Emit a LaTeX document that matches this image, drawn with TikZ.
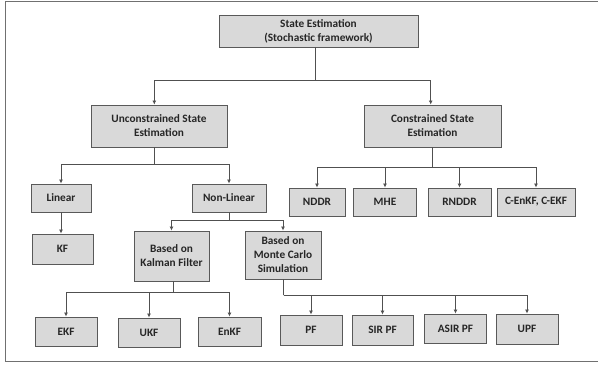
\documentclass[tikz,border=0pt]{standalone}
\usepackage{fontspec}
\setmainfont{Carlito}
\usetikzlibrary{arrows.meta}
\definecolor{boxfill}{HTML}{D9D9D9}
\definecolor{boxline}{HTML}{595959}
\definecolor{connc}{HTML}{505050}
\definecolor{framec}{HTML}{707070}
\begin{document}
\begin{tikzpicture}[x=1pt,y=-1pt,
  bx/.style={draw=boxline,fill=boxfill,line width=0.9pt,inner sep=0pt,align=center,
    font=\fontsize{11.3}{14}\selectfont\bfseries,text=black!85},
  conn/.style={draw=connc,line width=0.8pt},
  arr/.style={conn,-{Latex[length=4pt,width=4pt]}}]
\useasboundingbox (0,0) rectangle (598,365);
\draw[framec,line width=1pt] (598,1) -- (5,1) -- (5,361) -- (598,361);

% nodes
\node[bx,minimum width=199pt,minimum height=32pt] (top) at (318.5,31) {State Estimation\\(Stochastic framework)};
\node[bx,minimum width=136pt,minimum height=42pt] (unc) at (159,126) {Unconstrained State\\Estimation};
\node[bx,minimum width=137pt,minimum height=42pt] (con) at (432.5,126) {Constrained State\\Estimation};
\node[bx,minimum width=60pt,minimum height=28pt] (lin) at (61,198) {Linear};
\node[bx,minimum width=74pt,minimum height=28pt] (nonlin) at (229,198) {Non-Linear};
\node[bx,minimum width=61pt,minimum height=30pt] (kf) at (62.5,249) {KF};
\node[bx,minimum width=75pt,minimum height=50pt] (kal) at (171.5,256) {Based on\\Kalman Filter};
\node[bx,minimum width=76pt,minimum height=48pt] (mc) at (283,255) {Based on\\Monte Carlo\\Simulation};
\node[bx,minimum width=62pt,minimum height=29pt] (ekf) at (66,331.5) {EKF};
\node[bx,minimum width=62pt,minimum height=29pt] (ukf) at (149,332.5) {UKF};
\node[bx,minimum width=63pt,minimum height=29pt] (enkf) at (229.5,331.5) {EnKF};
\node[bx,minimum width=62pt,minimum height=30pt] (pf) at (311,330) {PF};
\node[bx,minimum width=61pt,minimum height=30pt] (sirpf) at (382.5,330) {SIR PF};
\node[bx,minimum width=62pt,minimum height=29pt] (asir) at (455.5,328.5) {ASIR PF};
\node[bx,minimum width=62pt,minimum height=30pt] (upf) at (527,329) {UPF};
\node[bx,minimum width=56pt,minimum height=28pt] (nddr) at (317,202) {NDDR};
\node[bx,minimum width=63pt,minimum height=28pt] (mhe) at (385,202) {MHE};
\node[bx,minimum width=63pt,minimum height=28pt] (rnddr) at (459.5,202) {RNDDR};
\node[bx,minimum width=78pt,minimum height=28pt] (cenkf) at (536,202) {C-EnKF, C-EKF};

% bus junctions
\coordinate (b1) at (315,80);
\coordinate (b2) at (154.3,164);
\coordinate (b3) at (432.5,167.5);
\coordinate (b4) at (229,220.7);
\coordinate (b5) at (173.7,292.7);
\coordinate (b6) at (283.7,295.3);

% connectors
\draw[conn] (top.south -| b1) -- (b1);
\draw[arr] (b1) -| ([xshift=-4.7pt]unc.north);
\draw[arr] (b1) -| ([xshift=-1.8pt]con.north);

\draw[conn] (unc.south -| b2) -- (b2);
\draw[arr] (b2) -| (lin.north);
\draw[arr] (b2) -| (nonlin.north);

\draw[conn] (con.south -| b3) -- (b3);
\draw[arr] (b3) -| (nddr.north);
\draw[arr] (b3) -| (mhe.north);
\draw[arr] (b3) -| (rnddr.north);
\draw[arr] (b3) -| (cenkf.north);

\draw[arr] (lin.south) -- (lin.south |- kf.north);

\draw[conn] (nonlin.south -| b4) -- (b4);
\draw[arr] (b4) -| (kal.north);
\draw[arr] (b4) -| (mc.north);

\draw[conn] (kal.south -| b5) -- (b5);
\draw[arr] (b5) -| (ekf.north);
\draw[arr] (b5) -| (ukf.north);
\draw[arr] (b5) -| (enkf.north);

\draw[conn] (mc.south -| b6) -- (b6);
\draw[arr] (b6) -| (pf.north);
\draw[arr] (b6) -| (sirpf.north);
\draw[arr] (b6) -| (asir.north);
\draw[arr] (b6) -| (upf.north);
\end{tikzpicture}
\end{document}
